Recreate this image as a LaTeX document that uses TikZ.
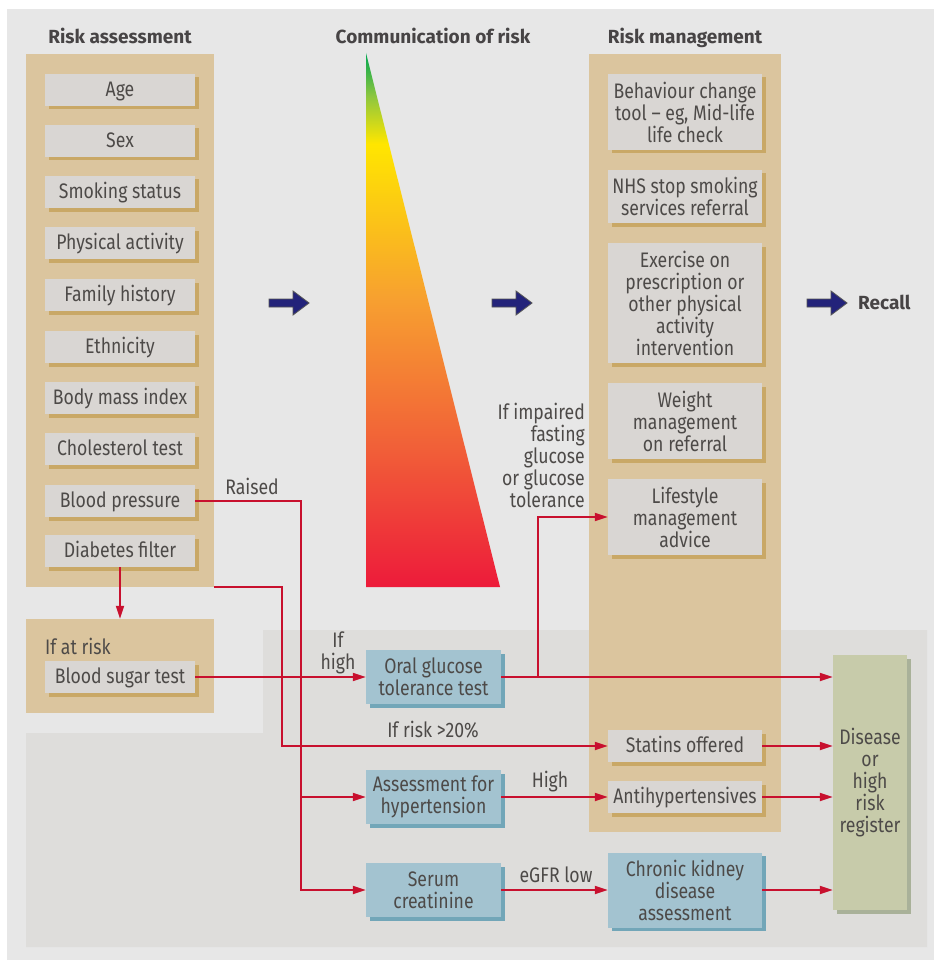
\documentclass[tikz,border=0pt]{standalone}
\usepackage{fontspec}
\setmainfont{Fira Sans}[FakeStretch=0.84]
\newfontfamily\titlefont{Fira Sans}
\usetikzlibrary{arrows.meta,shadows,calc}
\definecolor{bgouter}{HTML}{E7E7E7}
\definecolor{bgbottom}{HTML}{DEDDDB}
\definecolor{tanpanel}{HTML}{DBC59E}
\definecolor{boxgray}{HTML}{D9D6D3}
\definecolor{tanshadow}{HTML}{C9A866}
\definecolor{bluebox}{HTML}{A3C3D0}
\definecolor{blueshadow}{HTML}{72A6B8}
\definecolor{greenreg}{HTML}{C7CBAA}
\definecolor{greenshadow}{HTML}{A9B199}
\definecolor{redline}{HTML}{C8102E}
\definecolor{navyarrow}{HTML}{23237A}
\definecolor{arrowedge}{HTML}{555555}
\definecolor{textgray}{HTML}{4D4A48}
\definecolor{titlegray}{HTML}{474445}
\definecolor{rred}{RGB}{237,27,58}
\definecolor{rorred}{RGB}{241,95,56}
\definecolor{rorange}{RGB}{247,160,48}
\definecolor{ryellow}{RGB}{255,230,0}
\definecolor{rlgreen}{RGB}{140,198,63}
\definecolor{rgreen}{RGB}{0,166,80}
\pgfdeclareverticalshading{riskgrad}{100bp}{color(0bp)=(rred); color(25bp)=(rred); color(38bp)=(rorred); color(52bp)=(rorange); color(66.5bp)=(ryellow); color(71bp)=(rlgreen); color(75bp)=(rgreen); color(100bp)=(rgreen)}
\tikzset{
  panel/.style={fill=tanpanel, inner sep=0pt},
  gbox/.style={fill=boxgray, inner sep=0pt, align=center,
    drop shadow={shadow xshift=3.5pt, shadow yshift=-3.5pt, fill=tanshadow, opacity=1}},
  bbox/.style={fill=bluebox, inner sep=0pt, align=center,
    drop shadow={shadow xshift=3.5pt, shadow yshift=-3.5pt, fill=blueshadow, opacity=1}},
  lbox/.style={gbox, minimum width=150pt, minimum height=32pt, text height=17.5pt, text depth=4pt},
  rbox/.style={gbox, minimum width=154pt},
  sbox/.style={rbox, minimum height=32pt, text height=17.5pt, text depth=4pt},
  blbox/.style={bbox, minimum width=135pt, minimum height=54pt},
  lab/.style={inner sep=0pt, align=center},
  ttl/.style={inner sep=0pt, anchor=base, font=\titlefont\bfseries\fontsize{19}{22}\selectfont, text=titlegray},
  conn/.style={draw=redline, line width=2pt, -{Triangle[length=13pt,width=8pt]}},
  bigarrow/.style={fill=navyarrow, draw=arrowedge, line width=0.8pt}
}
\begin{document}
\begin{tikzpicture}[x=1pt,y=-1pt, font=\fontsize{21}{22}\selectfont, text=textgray]
\useasboundingbox (0,0) rectangle (934,960);
\fill[white] (0,0) rectangle (934,960);
\fill[bgouter] (7,9) rectangle (934,960);
\fill[bgbottom] (263,630) -- (927,630) -- (927,947) -- (26,947) -- (26,733) -- (263,733) -- cycle;

% panels
\node[panel, minimum width=188pt, minimum height=533pt] (lpanel) at (120,320.5) {};
\node[panel, minimum width=188pt, minimum height=94pt] (atrisk) at (120,666) {};
\node[panel, minimum width=192pt, minimum height=778pt] (rpanel) at (685,443) {};

% titles
\node[ttl] (t1) at (120,44) {Risk assessment};
\node[ttl] (t2) at (433,44) {Communication of risk};
\node[ttl] (t3) at (685,44) {Risk management};

% triangle
\shade[shading=riskgrad] (366,53) -- (500,587) -- (366,587) -- cycle;

% big arrows
\foreach \ax in {269,492,807}
  \draw[bigarrow] (\ax,299) -- ++(24,0) -- ++(0,-8) -- ++(16,12) -- ++(-16,12) -- ++(0,-8) -- ++(-24,0) -- cycle;
\node[ttl, anchor=base west] (recall) at (858,309) {Recall};

% left boxes
\node[lbox] (age) at (120,90) {Age};
\node[lbox] (sex) at (120,141) {Sex};
\node[lbox] (smk) at (120,192) {Smoking status};
\node[lbox] (phys) at (120,243) {Physical activity};
\node[lbox] (fam) at (120,295) {Family history};
\node[lbox] (eth) at (120,347) {Ethnicity};
\node[lbox] (bmi) at (120,398) {Body mass index};
\node[lbox] (chol) at (120,449) {Cholesterol test};
\node[lbox] (bp) at (120,501) {Blood pressure};
\node[lbox] (diab) at (120,551) {Diabetes filter};
\node[lab, anchor=base west] (ifrisk) at (45,654) {If at risk};
\node[lbox] (bst) at (120,677) {Blood sugar test};

% right boxes
\node[rbox, minimum height=76pt] (beh) at (685,112) {Behaviour change\\tool -- eg, Mid-life\\life check};
\node[rbox, minimum height=53pt] (nhs) at (685,196.5) {NHS stop smoking\\services referral};
\node[rbox, minimum height=120pt] (exer) at (685,303) {Exercise on\\prescription or\\other physical\\activity\\intervention};
\node[rbox, minimum height=76pt] (wt) at (685,421) {Weight\\management\\on referral};
\node[rbox, minimum height=76pt] (life) at (685,517) {Lifestyle\\management\\advice};
\node[sbox] (stat) at (685,746) {Statins offered};
\node[sbox] (antih) at (685,797) {Antihypertensives};
\node[bbox, minimum width=154pt, minimum height=75pt] (ckd) at (685,890) {Chronic kidney\\disease\\assessment};

% blue boxes
\node[blbox] (ogtt) at (433.5,677) {Oral glucose\\tolerance test};
\node[blbox] (aht) at (433.5,797) {Assessment for\\hypertension};
\node[blbox] (serum) at (433.5,890) {Serum\\creatinine};

% register
\node[fill=greenreg, inner sep=0pt, align=center, minimum width=74pt, minimum height=255pt,
  drop shadow={shadow xshift=4pt, shadow yshift=-4pt, fill=greenshadow, opacity=1}] (reg) at (870,782.5) {Disease\\or\\high\\risk\\register};

% labels
\node[lab] (raised) at (252,486) {Raised};
\node[lab] (ifhigh) at (338,653) {If\\high};
\node[lab] (risk20) at (433,730) {If risk >20\%};
\node[lab] (high) at (550,782) {High};
\node[lab] (egfr) at (556,875) {eGFR low};
\node[lab, align=right, anchor=east] (ifimp) at (585,455.5) {If impaired\\fasting\\glucose\\or glucose\\tolerance};

% junction coordinates
\coordinate (jbp) at (301,890);
\coordinate (jrisk) at (282,746);
\coordinate (jog) at (538,677);

% connectors
\draw[conn] (diab.south) -- (atrisk.north);
\draw[conn] (bp.east) -| (jbp) -- (serum.west);
\draw[conn] (jbp |- aht.west) -- (aht.west);
\draw[conn] (lpanel.south east) -| (jrisk) -- (stat.west);
\draw[conn] (bst.east) -- (ogtt.west);
\draw[conn] (ogtt.east) -- (reg.west |- ogtt.east);
\draw[conn] (jog) |- (life.west);
\draw[conn] (stat.east) -- (reg.west |- stat.east);
\draw[conn] (aht.east) -- (antih.west);
\draw[conn] (antih.east) -- (reg.west |- antih.east);
\draw[conn] (serum.east) -- (ckd.west);
\draw[conn] (ckd.east) -- (reg.west |- ckd.east);
\end{tikzpicture}
\end{document}
